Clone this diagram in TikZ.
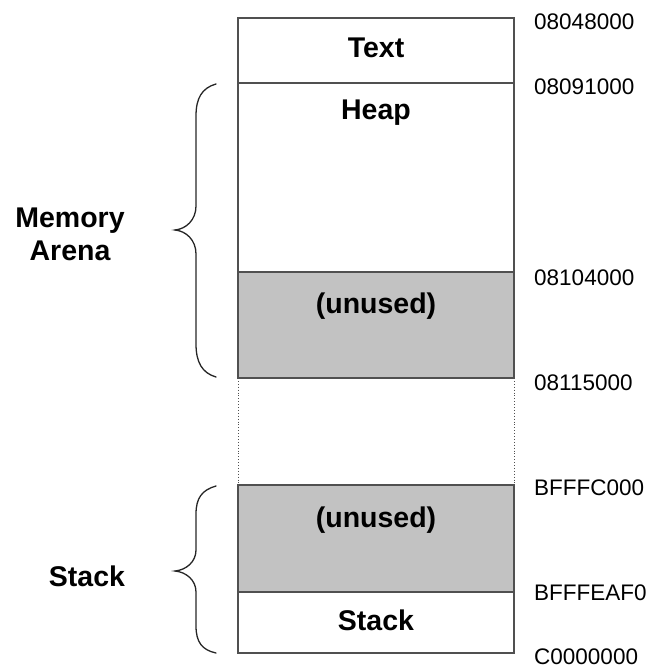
\documentclass[tikz,border=0pt]{standalone}
\usepackage{fontspec}
\setmainfont{Liberation Sans}
\definecolor{boxline}{HTML}{505050}
\definecolor{unusedgray}{HTML}{C2C2C2}
\begin{document}
\begin{tikzpicture}[x=1pt,y=-1pt,
  seg/.style={draw=boxline,line width=1.6pt},
  gap/.style={draw=boxline,line width=0.9pt,dotted},
  lbl/.style={font=\fontsize{28.5}{31}\selectfont\bfseries,anchor=base,inner sep=0pt},
  addr/.style={font=\fontsize{22.5}{25}\selectfont,anchor=base west,inner sep=0pt},
  bracestyle/.style={draw=black!85,line width=1.3pt,line cap=round}]
\useasboundingbox (0,0) rectangle (656,668);
% regions
\fill[unusedgray] (238,272) rectangle (514,378);
\fill[unusedgray] (238,485) rectangle (514,592);
\draw[seg] (238,18) rectangle (514,378);
\draw[seg] (238,83) -- (514,83);
\draw[seg] (238,272) -- (514,272);
\draw[seg] (238,485) rectangle (514,653);
\draw[seg] (238,592) -- (514,592);
\draw[gap] (238,378) -- (238,485);
\draw[gap] (514,378) -- (514,485);
% labels in boxes
\node[lbl] (text) at (376,58) {Text};
\node[lbl] (heap) at (376,120) {Heap};
\node[lbl] (unusedA) at (376,313) {(unused)};
\node[lbl] (unusedB) at (376,527) {(unused)};
\node[lbl] (stackin) at (376,630) {Stack};
% addresses
\node[addr] (a1) at (534,30) {08048000};
\node[addr] (a2) at (534,95) {08091000};
\node[addr] (a3) at (534,285) {08104000};
\node[addr] (a4) at (534,390) {08115000};
\node[addr] (a5) at (534,495) {BFFFC000};
\node[addr] (a6) at (534,600) {BFFFEAF0};
\node[addr] (a7) at (534,664) {C0000000};
% braces
\draw[bracestyle] (216,84) .. controls (202,88) and (196,98) .. (196,116)
  -- (196,206) .. controls (196,220) and (186,229) .. (175,230)
  .. controls (186,231) and (196,240) .. (196,254)
  -- (196,344) .. controls (196,362) and (202,373) .. (216,377);
\draw[bracestyle] (216,486) .. controls (202,490) and (196,498) .. (196,514)
  -- (196,550) .. controls (196,562) and (186,570) .. (175,571)
  .. controls (186,572) and (196,580) .. (196,592)
  -- (196,626) .. controls (196,642) and (202,650) .. (216,653);
% side labels
\node[lbl] (mem) at (70,227) {Memory};
\node[lbl] (arena) at (70,260) {Arena};
\node[lbl] (stackout) at (87,586) {Stack};
\end{tikzpicture}
\end{document}
